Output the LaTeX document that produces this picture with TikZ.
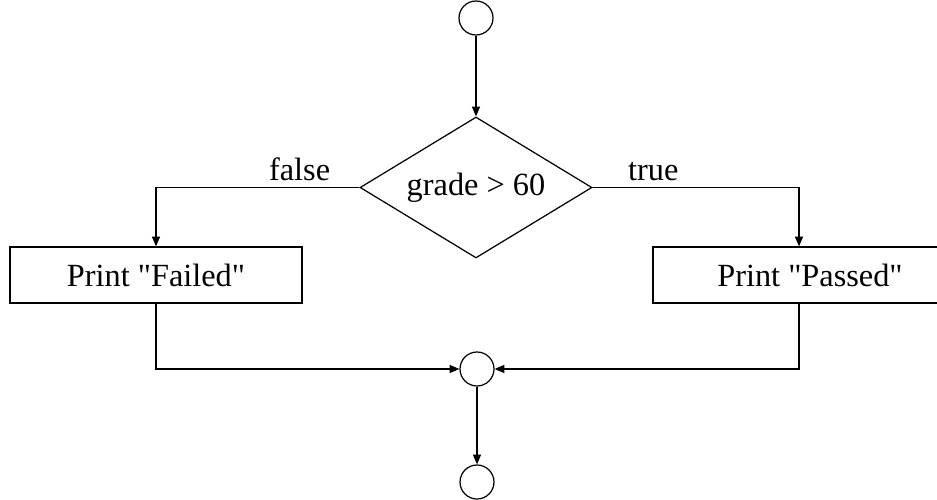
\documentclass[tikz,border=0pt]{standalone}
\usepackage{fontspec}
\setmainfont{Liberation Serif}
\usetikzlibrary{arrows.meta, shapes.geometric}
\tikzset{
  connector/.style={
    draw,
    -{Triangle[length=5.6pt, width=4.6pt]},
    line width=0.7pt
  },
  junction/.style={
    circle,
    draw,
    line width=0.7pt,
    minimum size=0.68cm,
    inner sep=0pt
  },
  decision/.style={
    diamond,
    draw,
    aspect=1.645,
    line width=0.7pt,
    minimum width=4.64cm,
    minimum height=2.82cm,
    inner sep=0pt
  },
  action/.style={
    rectangle,
    draw,
    line width=0.7pt,
    minimum width=5.84cm,
    minimum height=1.12cm,
    inner sep=0pt
  },
  every node/.style={font=\fontsize{18.4pt}{22pt}\selectfont}
}
\begin{document}
\begin{tikzpicture}[x=0.02cm, y=-0.02cm]
  \useasboundingbox (0,0) rectangle (937,500);
  \node[junction] (start) at (476, 18) {};
  \node[decision] (cond) at (476, 187.5) {grade > 60};
  \node[action] (fail) at (156, 275) {Print \textquotedbl Failed\textquotedbl};
  % box runs off the right edge
  \node[action, minimum width=6.28cm] (pass) at (810, 275) {Print \textquotedbl Passed\textquotedbl};
  \node[junction] (join) at (477, 369) {};
  \node[junction] (stop) at (477, 482) {};

  \path (start) edge[connector] (cond);
  \draw[connector] (cond.west) -| node[pos=0.147, above, inner sep=3.5pt]{false} (fail.north);
  \draw[connector] (cond.east) -| node[pos=0.147, above, inner sep=3.5pt]{true} ([xshift=-0.22cm]pass.north);
  \draw[connector] (fail.south) |- (join.west);
  \draw[connector] ([xshift=-0.22cm]pass.south) |- (join.east);
  \path (join) edge[connector] (stop);
\end{tikzpicture}
\end{document}
